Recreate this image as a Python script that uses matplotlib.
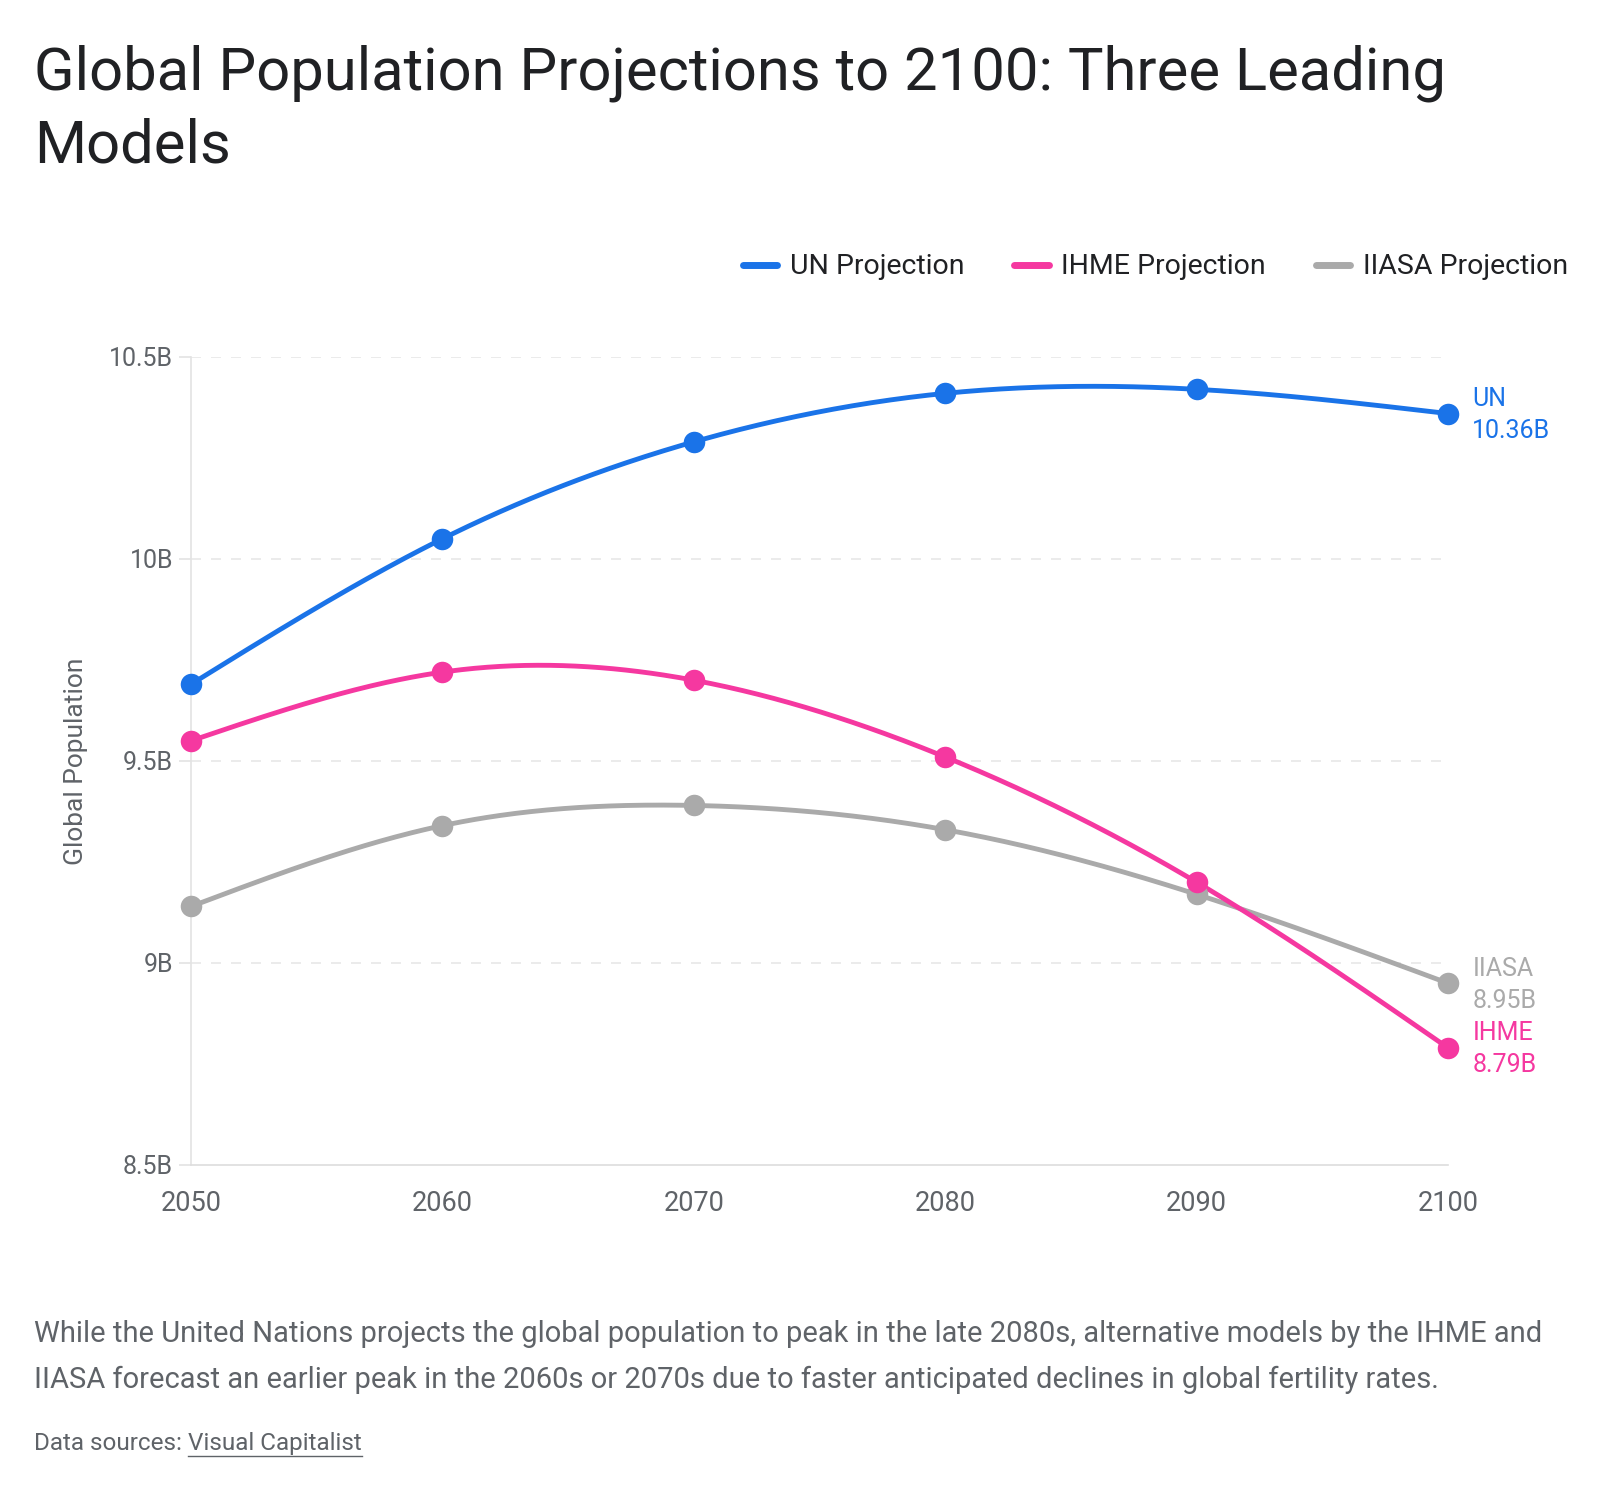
import numpy as np
import matplotlib
matplotlib.use("Agg")
import matplotlib.pyplot as plt
from matplotlib.lines import Line2D

years = [2050, 2060, 2070, 2080, 2090, 2100]
un_values = [9.69, 10.05, 10.29, 10.41, 10.42, 10.36]
ihme_values = [9.55, 9.72, 9.70, 9.51, 9.20, 8.79]
iiasa_values = [9.14, 9.34, 9.39, 9.33, 9.17, 8.95]
series_names = ["UN Projection", "IHME Projection", "IIASA Projection"]
end_names = ["UN", "IHME", "IIASA"]
y_ticks = [8.5, 9.0, 9.5, 10.0, 10.5]
y_tick_labels = ["8.5B", "9B", "9.5B", "10B", "10.5B"]

COL_UN = "#1a73e8"
COL_IHME = "#f538a0"
COL_IIASA = "#aaaaaa"
TEXT = "#5f6368"
TITLE = "#202124"
FONT = ["Roboto", "DejaVu Sans"]
plt.rcParams["font.family"] = FONT

W, H = 1600, 1490
fig = plt.figure(figsize=(W / 100, H / 100), dpi=100)
fig.patch.set_facecolor("white")


def fx(px):
    return px / W


def fy(py):
    return 1 - py / H


def natural_spline(x, y, n=400):
    x = np.asarray(x, float)
    y = np.asarray(y, float)
    k = len(x)
    h = np.diff(x)
    A = np.zeros((k, k))
    b = np.zeros(k)
    A[0, 0] = 1
    A[-1, -1] = 1
    for i in range(1, k - 1):
        A[i, i - 1] = h[i - 1]
        A[i, i] = 2 * (h[i - 1] + h[i])
        A[i, i + 1] = h[i]
        b[i] = 6 * ((y[i + 1] - y[i]) / h[i] - (y[i] - y[i - 1]) / h[i - 1])
    M = np.linalg.solve(A, b)
    xs = np.linspace(x[0], x[-1], n)
    ys = np.empty_like(xs)
    for j, xv in enumerate(xs):
        i = min(np.searchsorted(x, xv, side="right") - 1, k - 2)
        t1 = x[i + 1] - xv
        t0 = xv - x[i]
        ys[j] = (M[i] * t1 ** 3 / (6 * h[i]) + M[i + 1] * t0 ** 3 / (6 * h[i])
                 + (y[i] / h[i] - M[i] * h[i] / 6) * t1
                 + (y[i + 1] / h[i] - M[i + 1] * h[i] / 6) * t0)
    return xs, ys


ax = fig.add_axes([fx(191), fy(1165), fx(1448) - fx(191), fy(357) - fy(1165)])
ax.set_xlim(2050, 2100)
ax.set_ylim(8.5, 10.5)
for s in ["top", "right"]:
    ax.spines[s].set_visible(False)
ax.spines["left"].set_color("#e3e3e3")
ax.spines["left"].set_linewidth(1.2)
ax.spines["bottom"].set_color("#dddddd")
ax.spines["bottom"].set_linewidth(1.2)
ax.set_yticks(y_ticks)
ax.set_yticklabels(y_tick_labels)
ax.set_xticks(years)
ax.set_xticklabels([str(y) for y in years])
ax.tick_params(axis="y", length=9, width=1.2, color="#e3e3e3", labelsize=18, labelcolor=TEXT, pad=4)
ax.tick_params(axis="x", length=0, labelsize=19.5, labelcolor=TEXT, pad=18)
for yv in y_ticks[1:]:
    ax.axhline(yv, color="#e8e8e8", lw=1.2, dashes=(6, 6), zorder=0)

ax.set_ylabel("Global Population", fontsize=19, color=TEXT, labelpad=15)

series = [(un_values, COL_UN), (ihme_values, COL_IHME), (iiasa_values, COL_IIASA)]
for vals, col in reversed(series):
    xs, ys = natural_spline(years, vals)
    ax.plot(xs, ys, color=col, lw=3.5, solid_capstyle="round", clip_on=False, zorder=3)
    ax.plot(years, vals, "o", color=col, ms=15.5, mec="none", clip_on=False, zorder=4)

# end labels
for name, (vals, col) in zip(end_names, series):
    ax.annotate(f"{name}\n{vals[-1]:.2f}B", xy=(years[-1], vals[-1]), xytext=(17.5, -1),
                textcoords="offset points", fontsize=18, color=col, va="center", ha="left",
                linespacing=1.42, annotation_clip=False)

# legend
handles = [Line2D([0], [0], color=c, lw=5, solid_capstyle="round") for _, c in series]
leg = fig.legend(handles, series_names, loc="center right", bbox_to_anchor=(fx(1568), fy(267)),
                 ncol=3, frameon=False, fontsize=20.5, handlelength=1.2, handletextpad=0.45,
                 columnspacing=1.75, labelcolor=TITLE, borderaxespad=0, borderpad=0)

# title
fig.text(fx(34), fy(44), "Global Population Projections to 2100: Three Leading\nModels",
         fontsize=43, color=TITLE, ha="left", va="top", linespacing=1.36)

# caption
fig.text(fx(34), fy(1342), "While the United Nations projects the global population to peak in the late 2080s, alternative models by the IHME and",
         fontsize=21, color=TEXT, ha="left", va="baseline")
fig.text(fx(34), fy(1388), "IIASA forecast an earlier peak in the 2060s or 2070s due to faster anticipated declines in global fertility rates.",
         fontsize=21, color=TEXT, ha="left", va="baseline")
t1 = fig.text(fx(34), fy(1450), "Data sources: ", fontsize=17.5, color=TEXT, ha="left", va="baseline")
fig.canvas.draw()
bb = t1.get_window_extent()
t2 = fig.text(bb.x1 / W, fy(1450), "Visual Capitalist", fontsize=17.5, color=TEXT, ha="left", va="baseline")
fig.canvas.draw()
bb2 = t2.get_window_extent()
fig.add_artist(Line2D([bb2.x0 / W, bb2.x1 / W], [fy(1456), fy(1456)], color=TEXT, lw=1.0))

fig.savefig("out.png", dpi=100, facecolor="white")
